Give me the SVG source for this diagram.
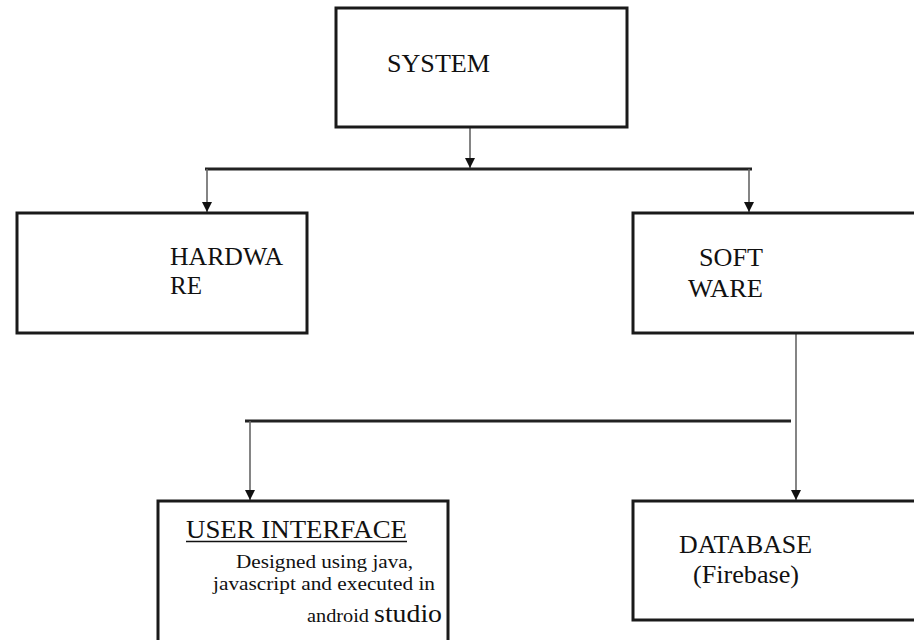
<svg xmlns="http://www.w3.org/2000/svg" width="914" height="640" viewBox="0 0 914 640">
<style>
.box{fill:#fff;stroke:#1a1a1a;stroke-width:3}
.h{stroke:#222;stroke-width:3;fill:none}
.v{stroke:#666;stroke-width:1.6;fill:none}
text{font-family:"Liberation Serif","Times New Roman",serif;fill:#111}
.lbl{font-size:26px}
.sm{font-size:19px}
</style>
<defs>
<marker id="ah" viewBox="0 0 10 10" refX="10" refY="5" markerWidth="10" markerHeight="10" markerUnits="userSpaceOnUse" orient="auto">
<path d="M0,0 L10,5 L0,10 Z" fill="#111"/>
</marker>
</defs>
<rect width="914" height="640" fill="#fff"/>
<g id="connectors">
<line class="v" x1="470" y1="127" x2="470" y2="168" marker-end="url(#ah)"/>
<line class="h" x1="205" y1="169" x2="752" y2="169"/>
<line class="v" x1="207" y1="169" x2="207" y2="212" marker-end="url(#ah)"/>
<line class="v" x1="749" y1="169" x2="749" y2="212" marker-end="url(#ah)"/>
<line class="v" x1="796" y1="333" x2="796" y2="500" marker-end="url(#ah)"/>
<line class="h" x1="245" y1="421" x2="791" y2="421"/>
<line class="v" x1="250" y1="421" x2="250" y2="500" marker-end="url(#ah)"/>
</g>
<g id="system">
<rect class="box" x="336" y="8" width="291" height="119"/>
<text class="lbl" x="387" y="72" textLength="103" lengthAdjust="spacingAndGlyphs">SYSTEM</text>
</g>
<g id="hardware">
<rect class="box" x="17" y="213" width="290" height="120"/>
<text class="lbl" x="170" y="265" textLength="113" lengthAdjust="spacingAndGlyphs">HARDWA</text>
<text class="lbl" x="170" y="294" textLength="32" lengthAdjust="spacingAndGlyphs">RE</text>
</g>
<g id="software">
<rect class="box" x="633" y="213" width="300" height="120"/>
<text class="lbl" x="699" y="266" textLength="64" lengthAdjust="spacingAndGlyphs">SOFT</text>
<text class="lbl" x="688" y="297" textLength="75" lengthAdjust="spacingAndGlyphs">WARE</text>
</g>
<g id="user-interface">
<rect class="box" x="158" y="501" width="290" height="160"/>
<text class="lbl" x="186" y="538" textLength="221" lengthAdjust="spacingAndGlyphs">USER INTERFACE</text>
<line x1="186" y1="541.5" x2="407" y2="541.5" stroke="#111" stroke-width="1.5"/>
<text class="sm" x="236" y="568" textLength="177" lengthAdjust="spacingAndGlyphs">Designed using java,</text>
<text class="sm" x="213" y="590" textLength="222" lengthAdjust="spacingAndGlyphs">javascript and executed in</text>
<text class="sm" x="307" y="622" font-size="20" textLength="135" lengthAdjust="spacingAndGlyphs">android <tspan font-size="26">studio</tspan></text>
</g>
<g id="database">
<rect class="box" x="633" y="501" width="300" height="119"/>
<text class="lbl" x="679" y="553" textLength="133" lengthAdjust="spacingAndGlyphs">DATABASE</text>
<text class="lbl" x="693" y="583" textLength="106" lengthAdjust="spacingAndGlyphs">(Firebase)</text>
</g>
</svg>
